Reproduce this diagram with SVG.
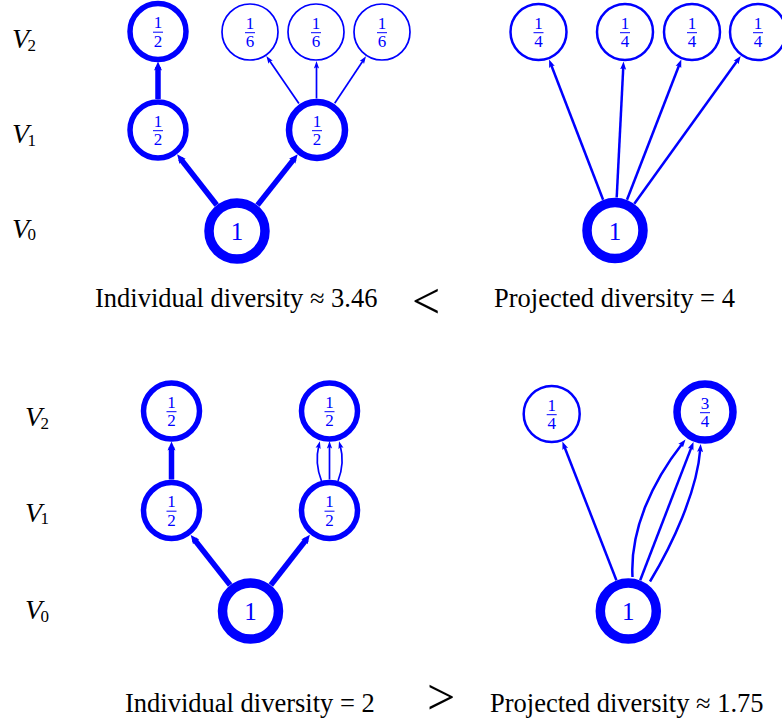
<svg xmlns="http://www.w3.org/2000/svg" width="782" height="725" viewBox="0 0 782 725">
<style>
.n{fill:#fff;stroke:#00f}
.p1{stroke-width:9.5}.p2{stroke-width:5.5}.p2b{stroke-width:6.5}.p4{stroke-width:2.5}.p6{stroke-width:1.7}.p34{stroke-width:7.5}
.e{fill:none;stroke:#00f}
.e2{stroke-width:5.5;marker-end:url(#ahL)}.e4{stroke-width:2.5;marker-end:url(#ahM)}.e6{stroke-width:1.7;marker-end:url(#ahS)}
.f{font-family:"Liberation Serif","Times New Roman",serif;font-size:17px;fill:#00f;text-anchor:middle}
.one{font-family:"Liberation Serif","Times New Roman",serif;font-size:25px;fill:#00f;text-anchor:middle}
.fb{stroke:#00f;stroke-width:1}
.lab{font-family:"Liberation Serif","Times New Roman",serif;font-size:28px;fill:#000}
.lab .v{font-style:italic}
.lab .s{font-size:17px}
.cap{font-family:"Liberation Serif","Times New Roman",serif;font-size:26.5px;fill:#000}
.rel{font-family:"Liberation Serif","Times New Roman",serif;font-size:50px;fill:#000}
</style>
<defs>
<marker id="ahL" viewBox="0 -5 10 10" refX="3.5" refY="0" markerWidth="10" markerHeight="10" markerUnits="userSpaceOnUse" orient="auto"><path d="M0,-4 L9,0 L0,4 L2,0 Z" fill="#00f"/></marker>
<marker id="ahM" viewBox="0 -4 9 8" refX="3" refY="0" markerWidth="9" markerHeight="8" markerUnits="userSpaceOnUse" orient="auto"><path d="M0,-3 L8,0 L0,3 L1.5,0 Z" fill="#00f"/></marker>
<marker id="ahS" viewBox="0 -3.5 8 7" refX="3" refY="0" markerWidth="8" markerHeight="7" markerUnits="userSpaceOnUse" orient="auto"><path d="M0,-2.6 L7.5,0 L0,2.6 L1.5,0 Z" fill="#00f"/></marker>
</defs>

<g id="labels">
<text class="lab" x="12" y="48"><tspan class="v">V</tspan><tspan class="s" dx="-1.5" dy="2.5">2</tspan></text>
<text class="lab" x="12" y="143"><tspan class="v">V</tspan><tspan class="s" dx="-1.5" dy="2.5">1</tspan></text>
<text class="lab" x="12" y="237.5"><tspan class="v">V</tspan><tspan class="s" dx="-1.5" dy="2.5">0</tspan></text>
<text class="lab" x="25" y="426"><tspan class="v">V</tspan><tspan class="s" dx="-1.5" dy="2.5">2</tspan></text>
<text class="lab" x="25" y="521.5"><tspan class="v">V</tspan><tspan class="s" dx="-1.5" dy="2.5">1</tspan></text>
<text class="lab" x="25" y="619"><tspan class="v">V</tspan><tspan class="s" dx="-1.5" dy="2.5">0</tspan></text>
</g>

<g id="connectors">
<!-- top-left -->
<path class="e e2" d="M216.7,205 L180.5,158.7"/>
<path class="e e2" d="M257.5,205.1 L294.3,158.6"/>
<path class="e e2" d="M158,99 L158,67"/>
<path class="e e6" d="M298.9,103.6 L268.9,59.7"/>
<path class="e e6" d="M316.5,98.5 L316.5,65.5"/>
<path class="e e6" d="M334.7,103.3 L363.5,60"/>
<!-- top-right -->
<path class="e e4" d="M603.1,199.7 L550.9,64.2"/>
<path class="e e4" d="M616.7,197.5 L623.3,66.5"/>
<path class="e e4" d="M627,199.7 L679.5,64.2"/>
<path class="e e4" d="M634.3,203.7 L737.8,60.1"/>
<!-- bottom-left -->
<path class="e e2" d="M230.1,585 L194.1,539.2"/>
<path class="e e2" d="M270.8,585 L306.5,539.2"/>
<path class="e e2" d="M171.5,479.5 L171.5,447"/>
<path class="e e6" d="M321.5,481 Q314.5,463 318.8,445.5"/>
<path class="e e6" d="M329.5,479.5 L329.5,445.5"/>
<path class="e e6" d="M338,481 Q345,463 340.2,445.5"/>
<!-- bottom-right -->
<path class="e e4" d="M616.4,580.2 L564.2,446.2"/>
<path class="e e4" d="M632.5,577 C630,530 652,482 682.4,443.4"/>
<path class="e e4" d="M640.2,580.2 L691.7,446.6"/>
<path class="e e4" d="M650,581.5 C672,545 697,492 700.3,449"/>
</g>

<!-- top-left nodes -->
<g id="tl-v0"><circle class="n p1" cx="237" cy="231" r="28"/><text class="one" x="237" y="240">1</text></g>
<g id="tl-v1a"><circle class="n p2" cx="158" cy="130" r="28"/><text class="f" x="158" y="126.7">1</text><line class="fb" x1="153" y1="130.7" x2="163" y2="130.7"/><text class="f" x="158" y="145.4">2</text></g>
<g id="tl-v1b"><circle class="n p2b" cx="317" cy="130" r="28"/><text class="f" x="317" y="126.7">1</text><line class="fb" x1="312" y1="130.7" x2="322" y2="130.7"/><text class="f" x="317" y="145.4">2</text></g>
<g id="tl-v2a"><circle class="n p2" cx="158" cy="31.5" r="28"/><text class="f" x="158" y="28.2">1</text><line class="fb" x1="153" y1="32.2" x2="163" y2="32.2"/><text class="f" x="158" y="46.9">2</text></g>
<g id="tl-v2b"><circle class="n p6" cx="250" cy="32" r="28"/><text class="f" x="250" y="28.7">1</text><line class="fb" x1="245" y1="32.7" x2="255" y2="32.7"/><text class="f" x="250" y="47.4">6</text></g>
<g id="tl-v2c"><circle class="n p6" cx="316" cy="32" r="28"/><text class="f" x="316" y="28.7">1</text><line class="fb" x1="311" y1="32.7" x2="321" y2="32.7"/><text class="f" x="316" y="47.4">6</text></g>
<g id="tl-v2d"><circle class="n p6" cx="382" cy="32" r="28"/><text class="f" x="382" y="28.7">1</text><line class="fb" x1="377" y1="32.7" x2="387" y2="32.7"/><text class="f" x="382" y="47.4">6</text></g>

<!-- top-right nodes -->
<g id="tr-v0"><circle class="n p1" cx="615" cy="230.5" r="28"/><text class="one" x="615" y="239.5">1</text></g>
<g id="tr-v2a"><circle class="n p4" cx="538.5" cy="32" r="28"/><text class="f" x="538.5" y="28.7">1</text><line class="fb" x1="533.5" y1="32.7" x2="543.5" y2="32.7"/><text class="f" x="538.5" y="47.4">4</text></g>
<g id="tr-v2b"><circle class="n p4" cx="625" cy="32" r="28"/><text class="f" x="625" y="28.7">1</text><line class="fb" x1="620" y1="32.7" x2="630" y2="32.7"/><text class="f" x="625" y="47.4">4</text></g>
<g id="tr-v2c"><circle class="n p4" cx="692" cy="32" r="28"/><text class="f" x="692" y="28.7">1</text><line class="fb" x1="687" y1="32.7" x2="697" y2="32.7"/><text class="f" x="692" y="47.4">4</text></g>
<g id="tr-v2d"><circle class="n p4" cx="758" cy="32" r="28"/><text class="f" x="758" y="28.7">1</text><line class="fb" x1="753" y1="32.7" x2="763" y2="32.7"/><text class="f" x="758" y="47.4">4</text></g>

<!-- bottom-left nodes -->
<g id="bl-v0"><circle class="n p1" cx="250.5" cy="611" r="28"/><text class="one" x="250.5" y="620">1</text></g>
<g id="bl-v1a"><circle class="n p2" cx="171.5" cy="510.5" r="28"/><text class="f" x="171.5" y="507.2">1</text><line class="fb" x1="166.5" y1="511.2" x2="176.5" y2="511.2"/><text class="f" x="171.5" y="525.9">2</text></g>
<g id="bl-v1b"><circle class="n p2" cx="329.5" cy="510.5" r="28"/><text class="f" x="329.5" y="507.2">1</text><line class="fb" x1="324.5" y1="511.2" x2="334.5" y2="511.2"/><text class="f" x="329.5" y="525.9">2</text></g>
<g id="bl-v2a"><circle class="n p2" cx="171.5" cy="411" r="28"/><text class="f" x="171.5" y="407.7">1</text><line class="fb" x1="166.5" y1="411.7" x2="176.5" y2="411.7"/><text class="f" x="171.5" y="426.4">2</text></g>
<g id="bl-v2b"><circle class="n p2" cx="329.5" cy="411" r="28"/><text class="f" x="329.5" y="407.7">1</text><line class="fb" x1="324.5" y1="411.7" x2="334.5" y2="411.7"/><text class="f" x="329.5" y="426.4">2</text></g>

<!-- bottom-right nodes -->
<g id="br-v0"><circle class="n p1" cx="628.3" cy="611" r="28"/><text class="one" x="628.3" y="620">1</text></g>
<g id="br-v2a"><circle class="n p4" cx="551.7" cy="414" r="28"/><text class="f" x="551.7" y="410.7">1</text><line class="fb" x1="546.7" y1="414.7" x2="556.7" y2="414.7"/><text class="f" x="551.7" y="429.4">4</text></g>
<g id="br-v2b"><circle class="n p34" cx="705" cy="412" r="28"/><text class="f" x="705" y="408.7">3</text><line class="fb" x1="700" y1="412.7" x2="710" y2="412.7"/><text class="f" x="705" y="427.4">4</text></g>

<g id="captions">
<text class="cap" x="95" y="307">Individual diversity ≈ 3.46</text>
<text class="rel" x="412" y="318">&lt;</text>
<text class="cap" x="494" y="307">Projected diversity = 4</text>
<text class="cap" x="125" y="712">Individual diversity = 2</text>
<text class="rel" x="427" y="714">&gt;</text>
<text class="cap" x="490" y="712">Projected diversity ≈ 1.75</text>
</g>
</svg>
